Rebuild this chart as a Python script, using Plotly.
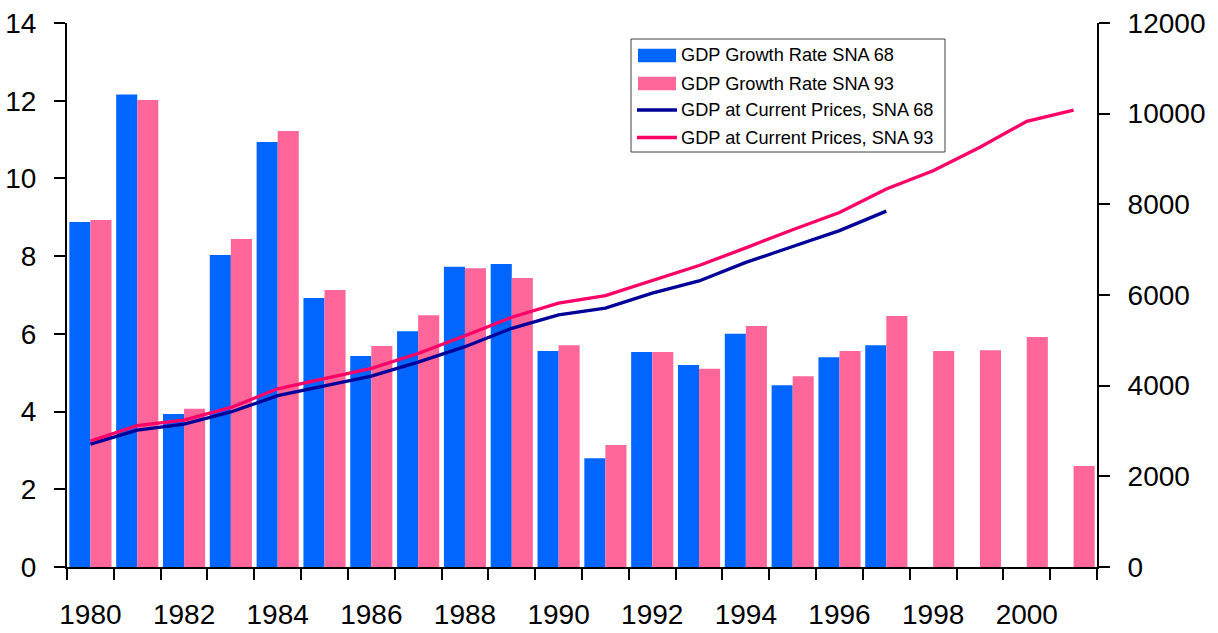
import plotly.graph_objects as go

# ---- data ----
years = list(range(1980, 2002))
years_sna68 = list(range(1980, 1998))

growth_sna68 = [8.88, 12.16, 3.94, 8.03, 10.94, 6.92, 5.43, 6.07, 7.73, 7.80,
                5.56, 2.80, 5.53, 5.20, 6.00, 4.68, 5.40, 5.71]
growth_sna93 = [8.93, 12.02, 4.07, 8.44, 11.22, 7.13, 5.69, 6.48, 7.69, 7.44,
                5.71, 3.14, 5.53, 5.10, 6.20, 4.91, 5.56, 6.46, 5.56, 5.58,
                5.92, 2.60]
gdp_sna68 = [2710, 3020, 3150, 3420, 3780, 4000, 4210, 4520, 4860, 5265,
             5560, 5710, 6040, 6310, 6720, 7070, 7420, 7850]
gdp_sna93 = [2780, 3120, 3240, 3520, 3930, 4150, 4380, 4710, 5100, 5510,
             5820, 5985, 6310, 6650, 7040, 7440, 7820, 8340, 8740, 9260,
             9830, 10080]

series_names = ["GDP Growth Rate SNA 68", "GDP Growth Rate SNA 93",
                "GDP at Current Prices, SNA 68", "GDP at Current Prices, SNA 93"]
left_ticks = list(range(0, 15, 2))
right_ticks = list(range(0, 12001, 2000))
x_ticks = list(range(1980, 2001, 2))

# ---- styling ----
BLUE = "#0066FF"
PINK = "#FF6699"
NAVY = "#000099"
RED = "#FF0066"
FONT = "Liberation Sans, Arial, sans-serif"

W, H = 1218, 633
ML, MR, MT, MB = 67, 121, 23, 66
PW, PH = W - ML - MR, H - MT - MB

fig = go.Figure()
fig.add_trace(go.Bar(x=years_sna68, y=growth_sna68, name=series_names[0],
                     marker=dict(color=BLUE, line=dict(width=0)), showlegend=False))
fig.add_trace(go.Bar(x=years, y=growth_sna93, name=series_names[1],
                     marker=dict(color=PINK, line=dict(width=0)), showlegend=False))
fig.add_trace(go.Scatter(x=years_sna68, y=gdp_sna68, name=series_names[2], mode="lines",
                         line=dict(color=NAVY, width=3.3), yaxis="y2", showlegend=False))
fig.add_trace(go.Scatter(x=years, y=gdp_sna93, name=series_names[3], mode="lines",
                         line=dict(color=RED, width=3.3), yaxis="y2", showlegend=False))


def px(xp):
    return (xp - ML) / PW


def py(yp):
    return (H - MB - yp) / PH


# legend box, drawn in paper coordinates
shapes = [dict(type="rect", xref="paper", yref="paper",
               x0=px(631), x1=px(945), y0=py(39), y1=py(152),
               line=dict(color="#404040", width=1), fillcolor="white", layer="above")]
annotations = []
rows = [55.5, 83.5, 110, 137.5]
for i, (name, yc) in enumerate(zip(series_names, rows)):
    if i < 2:
        shapes.append(dict(type="rect", xref="paper", yref="paper",
                           x0=px(638), x1=px(676), y0=py(yc - 6.7), y1=py(yc + 6.7),
                           line=dict(width=0), fillcolor=[BLUE, PINK][i], layer="above"))
    else:
        shapes.append(dict(type="line", xref="paper", yref="paper",
                           x0=px(637), x1=px(677), y0=py(yc), y1=py(yc),
                           line=dict(color=[NAVY, RED][i - 2], width=3.5), layer="above"))
    annotations.append(dict(xref="paper", yref="paper", x=px(679), y=py(yc),
                            xanchor="left", yanchor="middle", text=name, showarrow=False,
                            font=dict(family=FONT, size=18.2, color="black")))

fig.update_layout(
    width=W, height=H, autosize=False,
    margin=dict(l=ML, r=MR, t=MT, b=MB, pad=0, autoexpand=False),
    paper_bgcolor="white", plot_bgcolor="white",
    barmode="group", bargap=0.1, bargroupgap=0,
    font=dict(family=FONT, size=28, color="black"),
    shapes=shapes, annotations=annotations,
    showlegend=False,
    xaxis=dict(
        type="linear", range=[1979.5, 2001.5], automargin=False,
        tickmode="array", tickvals=x_ticks, ticktext=[str(v) for v in x_ticks],
        ticks="outside", ticklen=11, tickcolor="rgba(0,0,0,0)",
        ticklabelstandoff=10,
        minor=dict(tickmode="array", tickvals=[y - 0.5 for y in years] + [2001.5],
                   ticks="outside", ticklen=11, tickwidth=2, tickcolor="black",
                   showgrid=False),
        showline=True, linecolor="black", linewidth=2,
        showgrid=False, zeroline=False,
        tickfont=dict(family=FONT, size=28, color="black"),
    ),
    yaxis=dict(
        range=[0, 14], automargin=False, tickmode="array", tickvals=left_ticks,
        ticktext=[str(v) for v in left_ticks],
        ticks="outside", ticklen=11, tickwidth=2, tickcolor="black",
        ticklabelstandoff=12,
        showline=True, linecolor="black", linewidth=2,
        showgrid=False, zeroline=False,
        tickfont=dict(family=FONT, size=28, color="black"),
    ),
    yaxis2=dict(
        range=[0, 12000], overlaying="y", side="right", automargin=False,
        tickmode="array", tickvals=right_ticks, ticktext=[str(v) for v in right_ticks],
        ticks="outside", ticklen=11, tickwidth=2, tickcolor="black",
        ticklabelstandoff=12,
        showline=True, linecolor="black", linewidth=2,
        showgrid=False, zeroline=False,
        tickfont=dict(family=FONT, size=28, color="black"),
    ),
)

fig.write_html("out.html")
